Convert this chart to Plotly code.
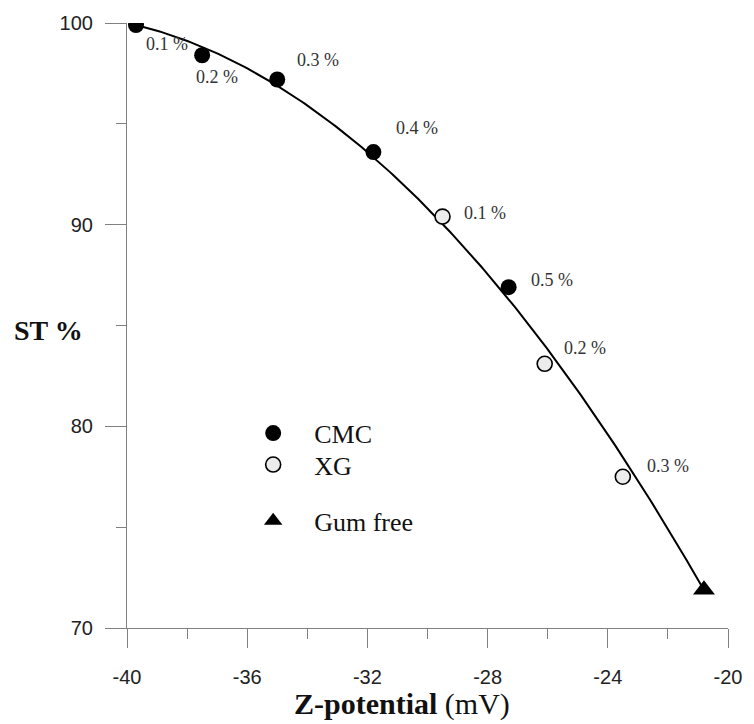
import numpy as np
import plotly.graph_objects as go

# Z-potential (mV) and stability (ST %) for each formulation
cmc_labels = ["0.1 %", "0.2 %", "0.3 %", "0.4 %", "0.5 %"]
cmc_z = [-39.7, -37.5, -35.0, -31.8, -27.3]
cmc_st = [99.9, 98.4, 97.2, 93.6, 86.9]

xg_labels = ["0.1 %", "0.2 %", "0.3 %"]
xg_z = [-29.5, -26.1, -23.5]
xg_st = [90.4, 83.1, 77.5]

free_z = [-20.8]
free_st = [71.9]

x_ticks = [-40, -36, -32, -28, -24, -20]
y_ticks = [70, 80, 90, 100]

# second-order trend line through all points, anchored at both ends
all_z = np.array(cmc_z + xg_z + free_z)
all_st = np.array(cmc_st + xg_st + free_st)
weights = np.ones_like(all_z)
weights[np.argmin(all_z)] = 6.0
weights[np.argmax(all_z)] = 6.0
coef = np.polyfit(all_z, all_st, 2, w=weights)
fit_z = np.linspace(all_z.min(), all_z.max(), 200)
fit_st = np.polyval(coef, fit_z)

SERIF = "Liberation Serif"
SANS = "Liberation Sans"
AXIS_GREY = "#808080"

fig = go.Figure()

fig.add_trace(go.Scatter(
    x=fit_z, y=fit_st, mode="lines",
    line=dict(color="black", width=2),
    showlegend=False, hoverinfo="skip",
))
fig.add_trace(go.Scatter(
    x=cmc_z, y=cmc_st, mode="markers", name="CMC", legend="legend",
    marker=dict(symbol="circle", size=16, color="black"),
))
fig.add_trace(go.Scatter(
    x=xg_z, y=xg_st, mode="markers", name="XG", legend="legend2",
    marker=dict(symbol="circle", size=15, color="#ececec",
                line=dict(color="black", width=1.6)),
))
fig.add_trace(go.Scatter(
    x=free_z, y=free_st, mode="markers", name="Gum free", legend="legend3",
    marker=dict(symbol="triangle-up", size=19, color="black"),
))

# concentration labels beside each point (pixel offsets)
cmc_offsets = [(8, -19), (-8, -22), (18, 19), (21, 24), (20, 7)]
xg_offsets = [(19, 4), (17, 16), (22, 11)]
for lab, zx, sy, (dx, dy) in zip(cmc_labels, cmc_z, cmc_st, cmc_offsets):
    fig.add_annotation(x=zx, y=sy, text=lab, showarrow=False,
                       xanchor="left", yanchor="middle", xshift=dx, yshift=dy,
                       font=dict(family=SERIF, size=18, color="#333333"))
for lab, zx, sy, (dx, dy) in zip(xg_labels, xg_z, xg_st, xg_offsets):
    fig.add_annotation(x=zx, y=sy, text=lab, showarrow=False,
                       xanchor="left", yanchor="middle", xshift=dx, yshift=dy,
                       font=dict(family=SERIF, size=18, color="#333333"))

# axis titles
fig.add_annotation(xref="paper", yref="paper", x=0.458, y=-0.126,
                   text="<b>Z-potential</b> (mV)", showarrow=False,
                   xanchor="center", yanchor="middle",
                   font=dict(family=SERIF, size=30, color="#111111"))
fig.add_annotation(xref="paper", yref="paper", x=-0.0704, y=0.492,
                   text="<b>ST %</b>", showarrow=False,
                   xanchor="right", yanchor="middle",
                   font=dict(family=SERIF, size=28, color="#111111"))

fig.update_xaxes(
    range=[-40, -20], tickvals=x_ticks, ticktext=[str(v) for v in x_ticks],
    showgrid=False, zeroline=False, showline=True, linecolor=AXIS_GREY, linewidth=1.2,
    ticks="outside", ticklen=19, tickcolor=AXIS_GREY, tickwidth=1.2,
    ticklabelstandoff=12,
    minor=dict(dtick=2, tick0=-40, ticks="outside", ticklen=10,
               tickcolor=AXIS_GREY, tickwidth=1.2, showgrid=False),
    tickfont=dict(family=SANS, size=20, color="#222222"),
)
fig.update_yaxes(
    range=[70, 100], tickvals=y_ticks, ticktext=[str(v) for v in y_ticks],
    showgrid=False, zeroline=False, showline=True, linecolor=AXIS_GREY, linewidth=1.2,
    ticks="outside", ticklen=21, tickcolor=AXIS_GREY, tickwidth=1.2,
    ticklabelstandoff=8,
    minor=dict(dtick=5, tick0=70, ticks="outside", ticklen=10,
               tickcolor=AXIS_GREY, tickwidth=1.2, showgrid=False),
    tickfont=dict(family=SANS, size=20, color="#222222"),
)

legend_style = dict(
    xanchor="left", yanchor="middle", itemwidth=72,
    font=dict(family=SERIF, size=26, color="#111111"),
    bgcolor="rgba(0,0,0,0)",
)
fig.update_layout(
    width=754, height=724,
    margin=dict(l=127, r=16, t=16, b=96),
    paper_bgcolor="white", plot_bgcolor="white",
    legend=dict(x=0.175, y=0.322, **legend_style),
    legend2=dict(x=0.175, y=0.270, **legend_style),
    legend3=dict(x=0.175, y=0.177, **legend_style),
)

fig.write_html("out.html")
